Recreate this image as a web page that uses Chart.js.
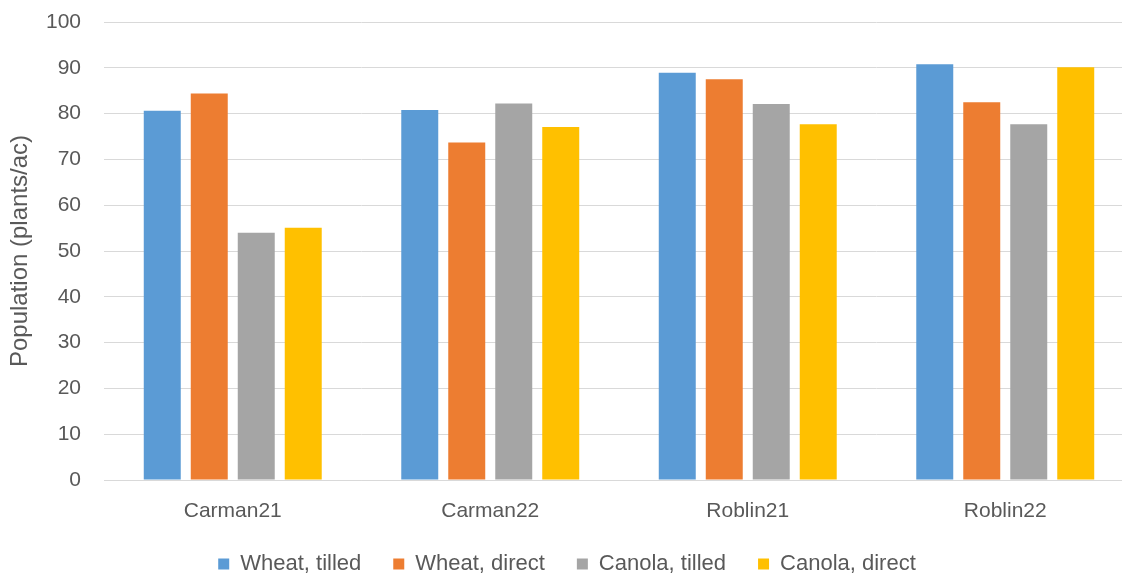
<!DOCTYPE html>
<html>
<head>
<meta charset="utf-8">
<script src="https://cdn.jsdelivr.net/npm/chart.js@4/dist/chart.umd.min.js"></script>
<style>
html,body{margin:0;padding:0;background:#fff;overflow:hidden;}
#wrap{width:1122px;height:574px;position:relative;overflow:hidden;}
canvas{display:block;}
</style>
</head>
<body>
<div id="wrap"><canvas id="c" width="1140" height="574"></canvas></div>
<script>
const categories = ["Carman21", "Carman22", "Roblin21", "Roblin22"];
const seriesNames = ["Wheat, tilled", "Wheat, direct", "Canola, tilled", "Canola, direct"];
const wheatTilled = [80.6, 80.8, 88.9, 90.8];
const wheatDirect = [84.4, 73.7, 87.5, 82.5];
const canolaTilled = [54.0, 82.2, 82.1, 77.7];
const canolaDirect = [55.1, 77.1, 77.7, 90.1];
const colors = ["#5B9BD5", "#ED7D31", "#A5A5A5", "#FFC000"];
const yTitle = "Population (plants/ac)";

const FONT = "'Liberation Sans', Arial, sans-serif";
const TXT = "#595959";
const values = [wheatTilled, wheatDirect, canolaTilled, canolaDirect];

// keep legend compact vertically while keeping wide horizontal spacing
const LegendEl = Chart.Legend && Chart.Legend._element;
if (LegendEl) {
  const origFit = LegendEl.prototype.fit;
  LegendEl.prototype.fit = function () {
    origFit.call(this);
    if (this.isHorizontal()) this.height = 53;
  };
}

new Chart(document.getElementById('c'), {
  type: 'bar',
  data: {
    labels: categories,
    datasets: values.map((v, i) => ({
      label: seriesNames[i],
      data: v,
      backgroundColor: colors[i],
      borderWidth: 0,
      barPercentage: 0.787,
      categoryPercentage: 0.73
    }))
  },
  options: {
    responsive: false,
    animation: false,
    devicePixelRatio: 1,
    layout: { padding: { left: 0, right: 6, top: 22, bottom: 0 } },
    plugins: {
      legend: {
        position: 'bottom',
        labels: {
          boxWidth: 11, boxHeight: 11, padding: 32,
          color: TXT,
          font: { family: FONT, size: 22 }
        }
      },
      tooltip: { enabled: false }
    },
    scales: {
      x: {
        afterFit: s => { s.height = 41; },
        grid: { display: false, drawTicks: false },
        border: { display: true, color: '#D9D9D9', width: 1 },
        ticks: { color: TXT, font: { family: FONT, size: 21 }, padding: 19 }
      },
      y: {
        min: 0, max: 100,
        afterFit: s => { s.width = 104; s.paddingTop = 0; s.paddingBottom = 0; },
        ticks: { stepSize: 10, color: TXT, font: { family: FONT, size: 21 }, padding: 23 },
        grid: { color: '#D9D9D9', lineWidth: 1, drawTicks: false },
        border: { display: false },
        title: { display: true, text: yTitle, color: TXT, font: { family: FONT, size: 24 }, padding: { top: 6, bottom: 0 } }
      }
    }
  }
});
</script>
</body>
</html>
